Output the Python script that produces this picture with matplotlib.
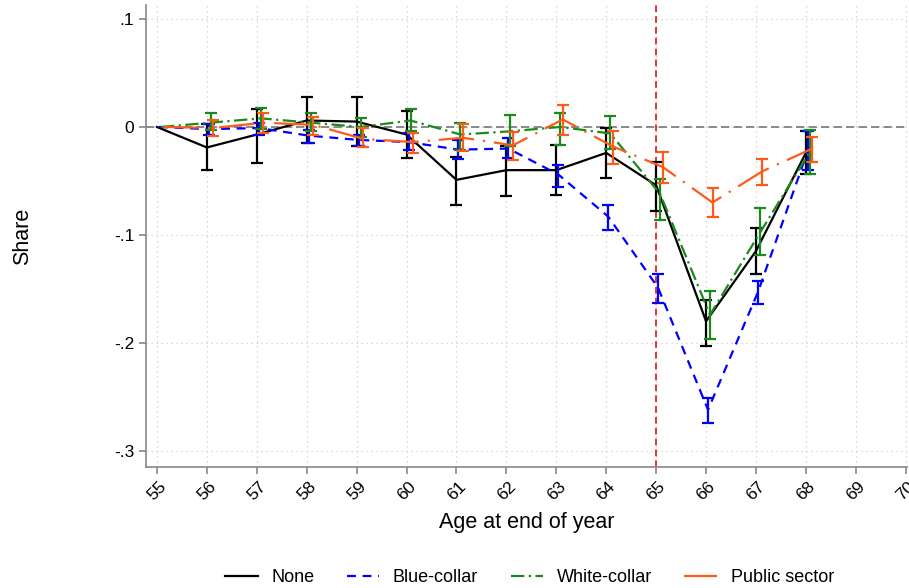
import matplotlib.pyplot as plt

plt.rcParams['font.family'] = ['Liberation Sans', 'DejaVu Sans']

ages = list(range(55, 69))

none_est = [0, -0.019, -0.007, 0.006, 0.005, -0.007, -0.049, -0.040, -0.040, -0.024, -0.054, -0.180, -0.115, -0.024]
none_lo = [0, -0.040, -0.033, -0.015, -0.018, -0.029, -0.072, -0.064, -0.063, -0.047, -0.078, -0.203, -0.136, -0.044]
none_hi = [0, 0.003, 0.017, 0.028, 0.028, 0.015, -0.028, -0.018, -0.017, -0.001, -0.032, -0.160, -0.094, -0.004]

blue_est = [0, -0.002, -0.001, -0.008, -0.012, -0.014, -0.021, -0.020, -0.044, -0.083, -0.149, -0.262, -0.153, -0.022]
blue_lo = [0, -0.007, -0.007, -0.015, -0.018, -0.021, -0.030, -0.029, -0.056, -0.095, -0.163, -0.274, -0.164, -0.040]
blue_hi = [0, 0.003, 0.004, -0.003, -0.007, -0.006, -0.012, -0.010, -0.035, -0.072, -0.136, -0.251, -0.143, -0.004]

white_est = [0, 0.004, 0.008, 0.004, 0.000, 0.006, -0.007, -0.004, 0.000, -0.006, -0.062, -0.174, -0.098, -0.023]
white_lo = [0, -0.003, -0.002, -0.004, -0.009, -0.004, -0.021, -0.018, -0.017, -0.020, -0.086, -0.196, -0.119, -0.044]
white_hi = [0, 0.013, 0.018, 0.013, 0.008, 0.017, 0.004, 0.011, 0.013, 0.010, -0.048, -0.152, -0.075, -0.003]

public_est = [0, -0.001, 0.004, 0.002, -0.011, -0.014, -0.010, -0.017, 0.007, -0.018, -0.037, -0.070, -0.041, -0.020]
public_lo = [0, -0.008, -0.006, -0.007, -0.019, -0.024, -0.022, -0.031, -0.007, -0.034, -0.052, -0.083, -0.054, -0.032]
public_hi = [0, 0.006, 0.013, 0.009, -0.001, -0.006, 0.003, -0.005, 0.020, -0.004, -0.023, -0.057, -0.030, -0.009]

series = [
    ("None", none_est, none_lo, none_hi, "black", "-", 0.0),
    ("Blue-collar", blue_est, blue_lo, blue_hi, "#0000ff", (0, (4, 3)), 0.04),
    ("White-collar", white_est, white_lo, white_hi, "#1a8a1a", (0, (6, 2, 1, 2)), 0.08),
    ("Public sector", public_est, public_lo, public_hi, "#ff5a1a", (0, (16, 4, 1, 4)), 0.13),
]

fig = plt.figure(figsize=(9.09, 5.88), dpi=100)
ax = fig.add_axes([0.1606, 0.2058, 0.8374, 0.7857])

ax.axhline(0, color="#777777", lw=1.2, ls=(0, (5, 2.5)), zorder=1)
ax.axvline(65, color="#e8101a", lw=1.2, ls=(0, (4, 2.5)), zorder=1)

handles = []
for name, est, lo, hi, col, ls, off in series:
    xs = [a + off for a in ages]
    ln, = ax.plot(xs, est, color=col, ls=ls, lw=1.6, zorder=3, label=name)
    handles.append(ln)
    yerr = [[e - l for e, l in zip(est[1:], lo[1:])], [h - e for e, h in zip(est[1:], hi[1:])]]
    ax.errorbar(xs[1:], est[1:], yerr=yerr, fmt="none", ecolor=col, elinewidth=1.6,
                capsize=4.5, capthick=1.6, zorder=3)

ax.set_xlim(54.78, 70.03)
ax.set_ylim(-0.315, 0.113)
ax.set_xticks(range(55, 71))
ax.set_xticklabels([str(a) for a in range(55, 71)], rotation=45, fontsize=12.5)
ax.set_yticks([0.1, 0, -0.1, -0.2, -0.3])
ax.set_yticklabels([".1", "0", "-.1", "-.2", "-.3"], fontsize=12.5)
ax.grid(True, color="#cccccc", ls=(0, (1, 3)), lw=0.9)
ax.set_axisbelow(True)
for s in ["top", "right"]:
    ax.spines[s].set_visible(False)
for s in ["left", "bottom"]:
    ax.spines[s].set_color("#888888")
    ax.spines[s].set_linewidth(1.2)
ax.tick_params(colors="#888888", labelcolor="black", length=5, width=1.2)

ax.set_xlabel("Age at end of year", fontsize=15.5, labelpad=6)
ax.set_ylabel("Share", fontsize=15.5, labelpad=58)

fig.legend(handles=handles, loc="lower center", ncol=4, frameon=False, fontsize=13,
           bbox_to_anchor=(0.5825, -0.025), handlelength=1.8, handletextpad=0.75,
           columnspacing=1.8)

fig.savefig("out.png", dpi=100)
